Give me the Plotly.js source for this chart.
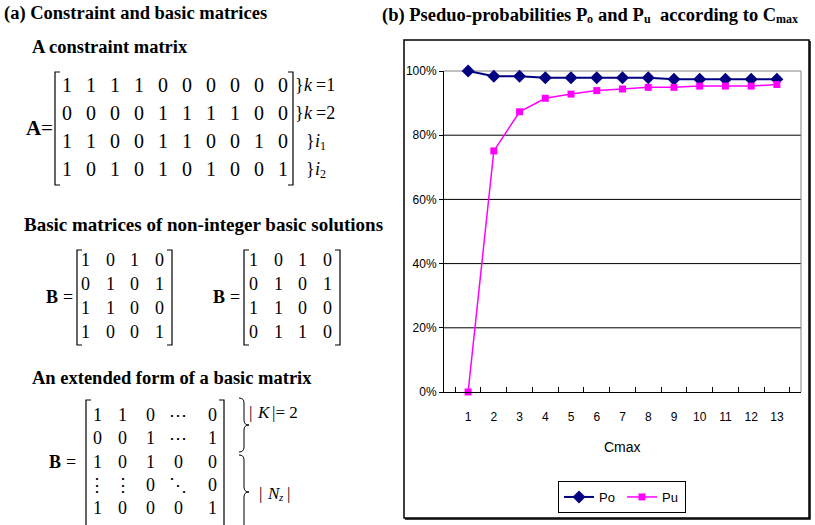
<!DOCTYPE html>
<html><head><meta charset="utf-8">
<script src="https://cdn.plot.ly/plotly-3.0.1.min.js"></script>
<style>html,body{margin:0;padding:0;background:#fff;} #chart{width:815px;height:525px;}</style>
</head><body><div id="chart"></div>
<script>
// ---- chart data ----
const cmax = ['1','2','3','4','5','6','7','8','9','10','11','12','13'];
const po = [1.000, 0.984, 0.984, 0.979, 0.979, 0.979, 0.979, 0.979, 0.974, 0.974, 0.974, 0.974, 0.974];
const pu = [0.000, 0.751, 0.873, 0.915, 0.928, 0.939, 0.944, 0.949, 0.949, 0.953, 0.953, 0.953, 0.958];
const yTicks = [0, 0.2, 0.4, 0.6, 0.8, 1.0];
const seriesNames = ['Po', 'Pu'];

// ---- matrices (text panel) ----
const matrixA = [[1,1,1,1,0,0,0,0,0,0],[0,0,0,0,1,1,1,1,0,0],[1,1,0,0,1,1,0,0,1,0],[1,0,1,0,1,0,1,0,0,1]];
const matrixB1 = [[1,0,1,0],[0,1,0,1],[1,1,0,0],[1,0,0,1]];
const matrixB2 = [[1,0,1,0],[0,1,0,1],[1,1,0,0],[0,1,1,0]];
const matrixBext = [['1','1','0','\u22EF','0'],['0','0','1','\u22EF','1'],['1','0','1','0','0'],['\u22EE','\u22EE','0','\u22F1','0'],['1','0','0','0','1']];

const SERIF = 'Liberation Serif';
const SANS = 'Liberation Sans';
const W = 815, H = 525;
const px = x => x / W, py = y => 1 - y / H;
const annotations = [], shapes = [];
const ctx = document.createElement('canvas').getContext('2d');

function measure(t, size, bold, italic, fam) {
  ctx.font = (italic ? 'italic ' : '') + (bold ? 'bold ' : '') + size + 'px "' + fam + '"';
  return ctx.measureText(t).width;
}
function ann(x, y, text, size, o) {
  o = o || {};
  annotations.push({xref:'paper', yref:'paper', x:px(x), y:py(y), text:text, showarrow:false, borderpad:0,
    xanchor:o.xanchor || 'left', yanchor:'middle',
    font:{family:o.family || SERIF, size:size, color:'#000', weight:o.bold ? 'bold' : 'normal', style:o.italic ? 'italic' : 'normal'}});
}
function rich(x, y, segs, base) {
  let cx = x;
  segs.forEach(s => {
    const size = s.size || base.size, bold = (s.bold !== undefined) ? s.bold : !!base.bold, italic = !!s.italic;
    const fam = base.family || SERIF;
    const lead = s.t.match(/^\s*/)[0], trail = s.t.match(/\s*$/)[0], core = s.t.trim();
    cx += measure(lead, size, bold, italic, fam);
    if (core) ann(cx, y + (s.dy || 0), core, size, {bold:bold, italic:italic, family:fam});
    cx += measure(core, size, bold, italic, fam) + measure(trail, size, bold, italic, fam);
  });
}
function pathPx(cmds) {
  return cmds.map(c => c[0] + c.slice(1).map((v, i) => i % 2 === 0 ? px(v) : py(v)).join(',')).join(' ');
}
function bracket(x, y1, y2, dir) {
  const s = 5 * dir;
  shapes.push({type:'path', xref:'paper', yref:'paper', path:pathPx([['M',x+s,y1],['L',x,y1],['L',x,y2],['L',x+s,y2]]), line:{color:'#000', width:1.2}});
}
function brace(x, y1, y2, ym) {
  const w = 5;
  shapes.push({type:'path', xref:'paper', yref:'paper', path:pathPx([
    ['M',x,y1],['Q',x+w,y1,x+w,y1+w],['L',x+w,ym-w],['Q',x+w,ym,x+2*w,ym],
    ['Q',x+w,ym,x+w,ym+w],['L',x+w,y2-w],['Q',x+w,y2,x,y2]]), line:{color:'#000', width:1}});
}
function matrix(m, xs, ys, size) {
  m.forEach((row, r) => row.forEach((v, c) => ann(xs[c], ys[r], String(v), size, {xanchor:'center'})));
}

// ---- panel (a) ----
ann(3, 13, '(a) Constraint and basic matrices', 18.5, {bold:true});
ann(31, 47, 'A constraint matrix', 18.5, {bold:true});
rich(25, 128, [{t:'A', bold:true}, {t:'='}], {size:21});
const rowsA = [85, 113, 141, 169];
matrix(matrixA, matrixA[0].map((_, i) => 66.7 + 24 * i), rowsA, 20);
bracket(55, 72, 185, 1); bracket(293, 72, 185, -1);
rich(294, rowsA[0], [{t:'}'}, {t:'k', italic:true}, {t:' =1'}], {size:18});
rich(294, rowsA[1], [{t:'}'}, {t:'k', italic:true}, {t:' =2'}], {size:18});
rich(305, rowsA[2], [{t:'}'}, {t:'i', italic:true}, {t:'1', size:12, dy:5}], {size:18});
rich(305, rowsA[3], [{t:'}'}, {t:'i', italic:true}, {t:'2', size:12, dy:5}], {size:18});

ann(23, 224, 'Basic matrices of non-integer basic solutions', 19, {bold:true});
rich(45, 297, [{t:'B', bold:true}, {t:' ='}], {size:18});
matrix(matrixB1, [85, 110, 134, 159], [260, 284, 308, 332], 18);
bracket(77, 250, 345, 1); bracket(172, 250, 345, -1);
rich(212, 297, [{t:'B', bold:true}, {t:' ='}], {size:18});
matrix(matrixB2, [253, 278, 302, 327], [260, 284, 308, 332], 18);
bracket(244, 250, 345, 1); bracket(340, 250, 345, -1);

ann(31, 378, 'An extended form of a basic matrix', 18.5, {bold:true});
rich(48, 462, [{t:'B', bold:true}, {t:' ='}], {size:18});
matrix(matrixBext, [97, 123, 150, 178, 212], [415, 438, 462, 485, 508], 18);
bracket(86, 400, 530, 1); bracket(224, 400, 530, -1);
brace(239, 398, 452, 425);
brace(239, 455, 530, 492);
rich(248, 412, [{t:'| '}, {t:'K', italic:true}, {t:' |= 2'}], {size:17});
rich(258, 493, [{t:'| '}, {t:'N', italic:true}, {t:'z', italic:true, size:11, dy:4}, {t:' |'}], {size:17});

// ---- panel (b) ----
rich(381, 15, [{t:'(b) Pseduo-probabilities P'}, {t:'o', size:12, dy:4}, {t:' and P'}, {t:'u', size:12, dy:4},
  {t:'  according to C'}, {t:'max', size:12, dy:4}], {size:18.5, bold:true});
shapes.push({type:'rect', xref:'paper', yref:'paper', x0:px(404), x1:px(809), y0:py(518), y1:py(40), line:{color:'#000', width:1.5}});
shapes.push({type:'path', xref:'paper', yref:'paper', path:pathPx([['M',810,41],['L',810,519],['L',405,519]]), line:{color:'#000', width:1.5}});
// horizontal gridlines (below traces) and grey plot-area border
yTicks.filter(v => v > 0 && v < 1).forEach(v => shapes.push({type:'line', xref:'x domain', yref:'y', x0:0, x1:1, y0:v, y1:v,
  layer:'below', line:{color:'#000', width:1}}));
shapes.push({type:'path', xref:'paper', yref:'paper', layer:'below', path:pathPx([['M',444,71],['L',801,71],['L',801,392]]), line:{color:'#808080', width:1}});
ann(622, 447, 'Cmax', 14, {xanchor:'center', family:SANS});

const traces = [
  {x:cmax, y:po, name:seriesNames[0], type:'scatter', mode:'lines+markers', cliponaxis:false,
   line:{color:'#000080', width:2}, marker:{symbol:'diamond', size:10, color:'#000080'}},
  {x:cmax, y:pu, name:seriesNames[1], type:'scatter', mode:'lines+markers', cliponaxis:false,
   line:{color:'#FF00FF', width:1.5}, marker:{symbol:'square', size:7, color:'#FF00FF'}}
];

const layout = {
  width:W, height:H, margin:{l:0, r:0, t:0, b:0, pad:0},
  paper_bgcolor:'#fff', plot_bgcolor:'rgba(0,0,0,0)',
  xaxis:{domain:[px(444), px(801)], type:'category', tickson:'boundaries', ticks:'inside', ticklen:5, tickcolor:'#000',
    showline:true, linecolor:'#000', linewidth:1, showgrid:false, zeroline:false,
    tickfont:{family:SANS, size:12, color:'#000'}, ticklabelstandoff:14, fixedrange:true},
  yaxis:{domain:[py(392), py(71)], range:[0, 1], tickvals:yTicks, tickformat:'.0%', ticks:'outside', ticklen:4, tickcolor:'#000',
    showline:true, linecolor:'#000', linewidth:1, showgrid:false, zeroline:false,
    tickfont:{family:SANS, size:12, color:'#000'}, fixedrange:true},
  showlegend:true,
  legend:{orientation:'h', x:px(622), y:py(497), xanchor:'center', yanchor:'middle', bordercolor:'#000', borderwidth:1,
    bgcolor:'#fff', font:{family:SANS, size:13, color:'#000'}, itemwidth:30, entrywidth:18, entrywidthmode:'pixels',
    traceorder:'normal'},
  annotations:annotations, shapes:shapes
};
Plotly.newPlot('chart', traces, layout, {displayModeBar:false, staticPlot:true});
</script>
</body></html>
